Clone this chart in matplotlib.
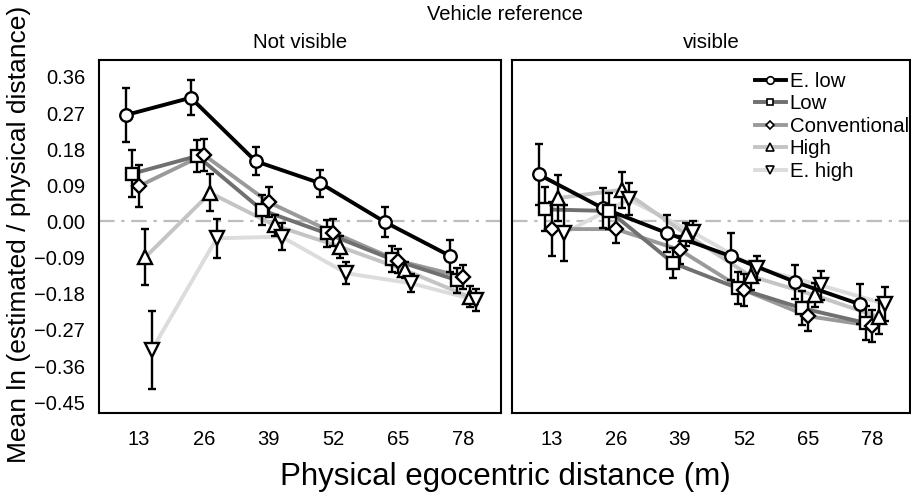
import numpy as np
import matplotlib.pyplot as plt
from matplotlib.lines import Line2D

plt.rcParams['font.family'] = ['Liberation Sans', 'DejaVu Sans']

# Дані
distances = [13, 26, 39, 52, 65, 78]
groups = ["E. low", "Low", "Conventional", "High", "E. high"]
panels = ["Not visible", "visible"]

# Not visible: середні та похибки (по рядку на групу)
nv_mean = [
    [0.265, 0.308, 0.150, 0.095, -0.002, -0.086],
    [0.119, 0.163, 0.028, -0.030, -0.094, -0.146],
    [0.088, 0.166, 0.048, -0.028, -0.098, -0.138],
    [-0.089, 0.071, -0.010, -0.063, -0.121, -0.188],
    [-0.320, -0.042, -0.038, -0.129, -0.154, -0.196],
]
nv_err = [
    [0.067, 0.044, 0.035, 0.033, 0.037, 0.041],
    [0.058, 0.041, 0.037, 0.033, 0.032, 0.031],
    [0.053, 0.040, 0.037, 0.033, 0.030, 0.030],
    [0.070, 0.046, 0.026, 0.027, 0.019, 0.026],
    [0.097, 0.048, 0.034, 0.028, 0.022, 0.027],
]

# visible
v_mean = [
    [0.117, 0.033, -0.029, -0.087, -0.151, -0.206],
    [0.030, 0.026, -0.104, -0.166, -0.216, -0.253],
    [-0.019, -0.019, -0.071, -0.171, -0.236, -0.260],
    [0.058, 0.079, -0.032, -0.136, -0.184, -0.238],
    [-0.029, 0.055, -0.027, -0.117, -0.159, -0.206],
]
v_err = [
    [0.075, 0.050, 0.046, 0.058, 0.043, 0.050],
    [0.055, 0.045, 0.037, 0.040, 0.043, 0.042],
    [0.067, 0.035, 0.035, 0.040, 0.036, 0.040],
    [0.058, 0.045, 0.028, 0.035, 0.030, 0.043],
    [0.070, 0.040, 0.027, 0.030, 0.036, 0.043],
]

yticks = [0.36, 0.27, 0.18, 0.09, 0.00, -0.09, -0.18, -0.27, -0.36, -0.45]

# Стиль
colors = ['#000000', '#707070', '#9a9a9a', '#c4c4c4', '#dcdcdc']
markers = ['o', 's', 'D', '^', 'v']
msizes = [9, 8, 7.5, 9.5, 9.5]
dodge = [-2.6, -1.3, 0.0, 1.3, 2.6]

W, H = 911, 494
fig = plt.figure(figsize=(W / 100, H / 100), dpi=100)
ax_l = fig.add_axes([99 / W, 1 - 413 / H, 402 / W, 353 / H])
ax_r = fig.add_axes([512 / W, 1 - 413 / H, 398 / W, 353 / H])


def draw_panel(ax, means, errs):
    ax.axhline(0, color='#bdbdbd', lw=1.6, ls=(0, (7, 3, 1.5, 3)), zorder=1)
    # лінії: E. low зверху
    for i in reversed(range(len(groups))):
        x = np.array(distances) + dodge[i]
        ax.plot(x, means[i], color=colors[i], lw=2.8, zorder=2 + (len(groups) - i) * 0.1,
                solid_joinstyle='round')
    for i in range(len(groups)):
        x = np.array(distances) + dodge[i]
        ax.errorbar(x, means[i], yerr=errs[i], fmt='none', ecolor='black',
                    elinewidth=1.7, capsize=3, capthick=1.7, zorder=5)
        ax.plot(x, means[i], ls='none', marker=markers[i], ms=msizes[i],
                mfc='white', mec='black', mew=1.7, zorder=6)

    ax.set_xlim(5, 85.6)
    ax.set_ylim(-0.477, 0.402)
    ax.set_xticks(distances)
    ax.set_yticks(yticks)
    ax.set_yticklabels([f'{t:.2f}'.replace('-', '\u2212') for t in yticks])
    ax.tick_params(length=0, labelsize=14.5)
    ax.tick_params(axis='x', pad=12)
    ax.tick_params(axis='y', pad=10)
    for s in ax.spines.values():
        s.set_linewidth(1.5)
        s.set_color('black')


draw_panel(ax_l, nv_mean, nv_err)
draw_panel(ax_r, v_mean, v_err)
ax_r.tick_params(axis='y', labelleft=False)

# Підписи панелей
fig.text(300 / W, 1 - 43 / H, panels[0], ha='center', va='center', fontsize=14.8)
fig.text(711 / W, 1 - 43 / H, panels[1], ha='center', va='center', fontsize=14.8)
fig.text(505 / W, 1 - 14 / H, 'Vehicle reference', ha='center', va='center', fontsize=14.5)
fig.text(505 / W, 1 - 477 / H, 'Physical egocentric distance (m)', ha='center',
         va='center', fontsize=22.5)
fig.text(19 / W, 1 - 234 / H, 'Mean ln (estimated / physical distance)', ha='center',
         va='center', rotation=90, fontsize=19)

# Легенда
handles = [Line2D([], [], color=colors[i], lw=2.8, marker=markers[i],
                  ms=msizes[i] * 0.6, mfc='white', mec='black', mew=1.2)
           for i in range(len(groups))]
ax_r.legend(handles, groups, loc='upper left', bbox_to_anchor=(755 / W, 1 - 72 / H),
            bbox_transform=fig.transFigure, frameon=False, borderpad=0,
            borderaxespad=0, handlelength=1.5, handletextpad=0.2,
            labelspacing=0.17, fontsize=14.7)

fig.savefig('out.png', dpi=100)
